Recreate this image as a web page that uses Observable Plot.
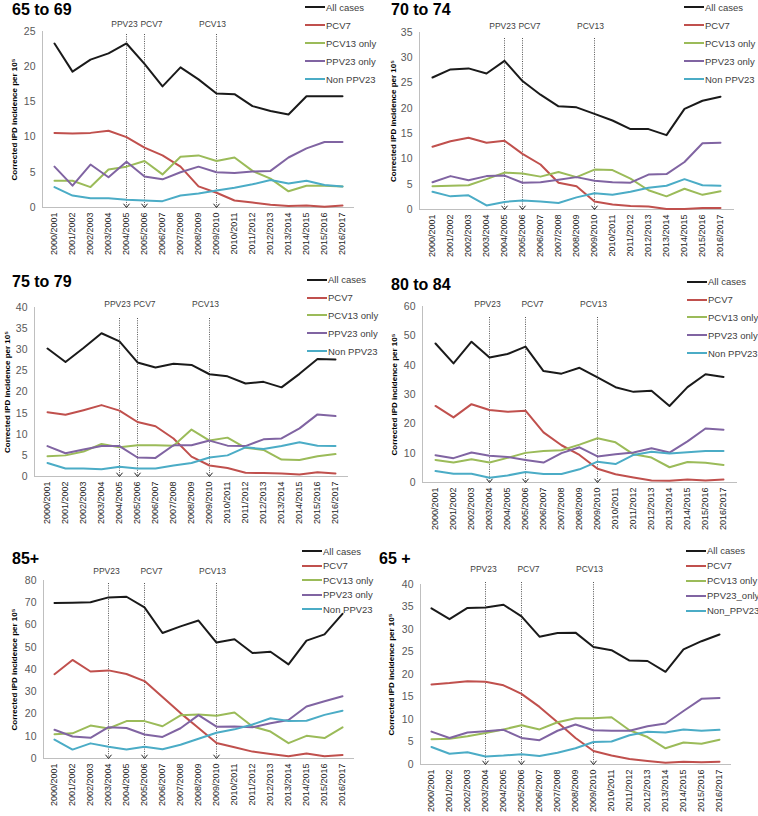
<!DOCTYPE html>
<html>
<head>
<meta charset="utf-8">
<script src="https://cdn.jsdelivr.net/npm/d3@7"></script>
<script src="https://cdn.jsdelivr.net/npm/@observablehq/plot@0.6"></script>
<style>
  body { margin: 0; background: #fff; font-family: "Liberation Sans", Arial, sans-serif; }
  #root { position: relative; width: 758px; height: 816px; overflow: hidden; background: #fff; }
  .panel { position: absolute; width: 379px; }
  .panel svg { position: absolute; left: 0; top: 0; overflow: visible; }
  .title { position: absolute; font-weight: bold; font-size: 16px; color: #000; line-height: 1; white-space: nowrap; }
  .legend { position: absolute; font-size: 9.5px; color: #404040; }
  .legend .row { display: flex; align-items: center; white-space: nowrap; }
  .legend .sw { display: inline-block; width: 20px; height: 2px; margin-right: 1px; }
</style>
</head>
<body>
<div id="root"></div>
<script>
// ---------- data ----------
const years = ["2000/2001","2001/2002","2002/2003","2003/2004","2004/2005","2005/2006","2006/2007","2007/2008","2008/2009","2009/2010","2010/2011","2011/2012","2012/2013","2013/2014","2014/2015","2015/2016","2016/2017"];
const seriesNames = ["All cases","PCV7","PCV13 only","PPV23 only","Non PPV23"];
const seriesNames65plus = ["All cases","PCV7","PCV13 only","PPV23_only","Non_PPV23"];
const vaccineNames = ["PPV23","PCV7","PCV13"];
const vaccineYearsA = ["2004/2005","2005/2006","2009/2010"];
const vaccineYearsB = ["2003/2004","2005/2006","2009/2010"];
const panelTitles = ["65 to 69","70 to 74","75 to 79","80 to 84","85+","65 +"];
const yMax = [25,35,40,60,80,40];
const yStep = [5,5,5,10,10,5];

// 65 to 69
const all_65_69   = [23.3,19.3,21.0,21.9,23.3,20.4,17.2,19.9,18.2,16.2,16.1,14.4,13.7,13.2,15.8,15.8,15.8];
const pcv7_65_69  = [10.6,10.5,10.6,10.9,10.0,8.5,7.4,5.8,3.0,2.1,1.0,0.7,0.4,0.2,0.3,0.1,0.3];
const pcv13_65_69 = [3.8,3.8,2.9,5.4,5.8,6.6,4.7,7.2,7.4,6.6,7.1,5.2,4.1,2.3,3.1,3.1,3.0];
const ppv23_65_69 = [5.8,3.1,6.1,4.3,6.5,4.4,4.0,5.0,5.8,5.0,4.9,5.1,5.2,7.1,8.4,9.3,9.3];
const non_65_69   = [2.9,1.7,1.3,1.3,1.1,1.0,0.9,1.7,2.0,2.4,2.8,3.3,3.9,3.4,3.8,3.2,3.0];
// 70 to 74
const all_70_74   = [26.1,27.7,27.9,26.9,29.4,25.4,22.7,20.4,20.2,18.9,17.6,15.9,15.9,14.7,19.9,21.5,22.3];
const pcv7_70_74  = [12.4,13.5,14.2,13.2,13.6,11.0,8.9,5.3,4.6,1.6,1.0,0.7,0.6,0.1,0.1,0.3,0.3];
const pcv13_70_74 = [4.6,4.7,4.8,6.0,7.3,7.1,6.5,7.4,6.4,7.9,7.8,6.1,3.8,2.6,4.1,2.9,3.6];
const ppv23_70_74 = [5.4,6.6,5.8,6.6,6.7,5.3,5.4,5.9,6.4,5.7,5.4,5.3,6.9,7.0,9.4,13.1,13.2];
const non_70_74   = [3.5,2.6,2.8,0.8,1.5,1.8,1.6,1.3,2.4,3.2,2.9,3.5,4.3,4.7,6.0,4.8,4.7];
// 75 to 79
const all_75_79   = [30.3,27.1,30.4,33.9,32.0,27.0,25.8,26.7,26.4,24.2,23.7,22.0,22.4,21.1,24.3,27.8,27.7];
const pcv7_75_79  = [15.2,14.6,15.7,16.9,15.6,12.9,11.9,9.0,4.7,2.6,2.0,0.9,0.8,0.7,0.5,1.0,0.7];
const pcv13_75_79 = [4.8,5.0,5.9,7.7,6.9,7.4,7.4,7.3,11.1,8.5,9.2,6.8,6.3,4.0,3.9,4.8,5.3];
const ppv23_75_79 = [7.2,5.5,6.4,7.2,7.2,4.5,4.4,7.4,7.4,8.5,7.3,7.2,8.8,9.0,11.4,14.7,14.3];
const non_75_79   = [3.2,1.9,1.9,1.7,2.3,1.9,1.9,2.6,3.2,4.5,5.0,6.9,6.5,7.2,8.1,7.3,7.2];
// 80 to 84
const all_80_84   = [47.4,40.6,48.0,42.6,43.8,46.3,38.0,37.1,39.1,35.8,32.5,30.9,31.3,26.1,32.5,36.9,36.0];
const pcv7_80_84  = [26.1,22.2,26.7,24.7,24.1,24.5,17.1,12.7,9.4,4.7,2.8,1.7,0.7,0.6,1.0,0.7,1.0];
const pcv13_80_84 = [7.7,6.8,7.9,6.8,8.4,10.1,10.7,11.0,12.9,15.1,13.7,9.6,8.5,5.2,7.0,6.7,6.0];
const ppv23_80_84 = [9.3,8.3,10.2,9.1,8.7,7.7,6.8,10.0,12.0,8.9,9.6,10.2,11.7,10.2,14.0,18.4,18.0];
const non_80_84   = [3.9,3.0,3.0,1.6,2.4,3.6,2.9,2.9,4.5,7.1,6.3,9.4,10.5,9.9,10.3,10.7,10.7];
// 85+
const all_85      = [69.9,70.0,70.2,72.4,72.7,67.9,56.4,59.4,62.0,52.1,53.6,47.4,48.0,42.3,53.0,55.8,65.0];
const pcv7_85     = [37.9,44.3,39.1,39.6,38.0,34.8,27.6,20.4,13.7,7.0,5.1,3.1,2.0,1.0,2.2,1.0,1.6];
const pcv13_85    = [10.9,11.3,14.8,13.5,16.8,16.8,14.5,19.4,19.8,19.2,20.7,14.4,12.1,6.9,10.2,9.2,14.0];
const ppv23_85    = [12.9,9.9,9.3,14.1,13.7,10.8,9.7,13.6,19.5,14.3,14.4,14.0,15.8,17.3,23.4,25.7,28.0];
const non_85      = [8.5,4.0,6.8,5.3,4.0,5.3,4.2,6.2,8.9,11.6,13.1,15.3,18.1,16.9,17.0,19.6,21.5];
// 65+
const all_65      = [34.7,32.3,34.8,34.9,35.5,32.9,28.4,29.2,29.3,26.1,25.4,23.1,23.0,20.6,25.6,27.4,28.9];
const pcv7_65     = [17.8,18.1,18.5,18.4,17.6,15.7,12.8,9.4,5.9,3.0,2.0,1.2,0.8,0.4,0.6,0.5,0.6];
const pcv13_65    = [5.6,5.7,6.3,7.0,7.8,8.7,7.8,9.4,10.3,10.3,10.5,7.6,6.1,3.6,4.9,4.6,5.5];
const ppv23_65    = [7.3,5.9,7.1,7.4,7.7,5.9,5.4,7.5,8.9,7.6,7.5,7.5,8.5,9.1,11.9,14.6,14.8];
const non_65      = [3.9,2.4,2.7,1.8,2.0,2.3,1.9,2.6,3.6,5.0,5.1,6.5,7.3,7.1,7.8,7.5,7.7];

const colors = ["#1a1a1a","#c0504d","#9bbb59","#8064a2","#4bacc6"];
const yLabel = "Corrected IPD incidence per 10\u2075";

const panelSeries = [
  [all_65_69, pcv7_65_69, pcv13_65_69, ppv23_65_69, non_65_69],
  [all_70_74, pcv7_70_74, pcv13_70_74, ppv23_70_74, non_70_74],
  [all_75_79, pcv7_75_79, pcv13_75_79, ppv23_75_79, non_75_79],
  [all_80_84, pcv7_80_84, pcv13_80_84, ppv23_80_84, non_80_84],
  [all_85, pcv7_85, pcv13_85, ppv23_85, non_85],
  [all_65, pcv7_65, pcv13_65, ppv23_65, non_65]
];
const panelVaccineYears = [vaccineYearsA, vaccineYearsA, vaccineYearsA, vaccineYearsB, vaccineYearsB, vaccineYearsB];
const panelNames = [seriesNames, seriesNames, seriesNames, seriesNames, seriesNames, seriesNames65plus];

// ---------- layout (styles / positions) ----------
const layout = [
  {left:0,   top:0,   h:265, mt:31, mb:58, ml:42, mr:26, ylx:14, tx:12, ty:2,  lx:305, ly:-2, lg:18,   inset:3,  vdy:-11},
  {left:379, top:0,   h:265, mt:32, mb:56, ml:40, mr:25, ylx:14, tx:12, ty:2,  lx:305, ly:-2, lg:18,   inset:6,  vdy:-10},
  {left:0,   top:265, h:270, mt:42, mb:59, ml:34, mr:32, ylx:7,  tx:12, ty:9,  lx:307, ly:6,  lg:17.8, inset:11, vdy:-7},
  {left:379, top:265, h:270, mt:41, mb:53, ml:43, mr:22, ylx:15, tx:12, ty:12, lx:308, ly:8,  lg:17.8, inset:11, vdy:-6},
  {left:0,   top:535, h:281, mt:45, mb:58, ml:43, mr:26, ylx:14, tx:12, ty:16, lx:302, ly:9,  lg:14.5, inset:3,  vdy:-13},
  {left:379, top:535, h:281, mt:49, mb:52, ml:41, mr:28, ylx:12, tx:0,  ty:16, lx:307, ly:8,  lg:15,   inset:-2, vdy:-19}
];
const vaccineLabelDx = {"PPV23": -2, "PCV7": 7, "PCV13": -4};

// chevron arrow head symbol (tip at the point)
const chevron = {
  draw(context, size) {
    const r = Math.sqrt(size / Math.PI);
    context.moveTo(-r, -r * 1.25);
    context.lineTo(0, 0);
    context.lineTo(r, -r * 1.25);
  }
};

const root = document.getElementById("root");

panelTitles.forEach((title, i) => {
  const L = layout[i];
  const names = panelNames[i];
  const rows = [];
  panelSeries[i].forEach((vals, s) => {
    vals.forEach((v, k) => rows.push({series: names[s], idx: s, year: years[k], value: v}));
  });
  const vacc = vaccineNames.map((n, k) => ({name: n, year: panelVaccineYears[i][k]}));
  const ticks = d3.range(0, yMax[i] + 0.001, yStep[i]);

  const panel = document.createElement("div");
  panel.className = "panel";
  panel.style.left = L.left + "px";
  panel.style.top = L.top + "px";
  panel.style.height = L.h + "px";

  const chart = Plot.plot({
    width: 379,
    height: L.h,
    marginTop: L.mt,
    marginBottom: L.mb,
    marginLeft: L.ml,
    marginRight: L.mr,
    style: {fontFamily: "'Liberation Sans', Arial, sans-serif", background: "transparent", overflow: "visible"},
    x: {type: "point", domain: years, padding: 0.5},
    y: {domain: [0, yMax[i]], ticks},
    marks: [
      Plot.frame({anchor: "left", stroke: "#bfbfbf"}),
      Plot.frame({anchor: "bottom", stroke: "#bfbfbf"}),
      Plot.axisY({ticks, tickSize: 0, tickPadding: 7, fontSize: 10.5, color: "#595959", label: null}),
      Plot.axisX({tickRotate: -90, tickSize: 0, tickPadding: 5, fontSize: 9, color: "#262626", label: null}),
      Plot.text([yLabel], {text: d => d, frameAnchor: "left", textAnchor: "middle", rotate: -90, dx: L.ylx - L.ml, fontSize: 8, fontWeight: "bold", fill: "#000"}),
      Plot.ruleX(vacc, {x: "year", insetTop: L.inset, stroke: "#555", strokeWidth: 1, strokeDasharray: "1,1.3"}),
      Plot.dot(vacc, {x: "year", frameAnchor: "bottom", symbol: chevron, r: 3, stroke: "#222", strokeWidth: 1, fill: "none"}),
      ...vaccineNames.map(n => Plot.text(vacc.filter(d => d.name === n), {x: "year", text: "name", frameAnchor: "top", dy: L.vdy, dx: vaccineLabelDx[n], fontSize: 8.5, fill: "#404040"})),
      Plot.line(rows, {x: "year", y: "value", z: "series", stroke: d => colors[d.idx], strokeWidth: 2, strokeLinejoin: "round"})
    ]
  });
  panel.appendChild(chart);

  const t = document.createElement("div");
  t.className = "title";
  t.style.left = L.tx + "px";
  t.style.top = L.ty + "px";
  t.textContent = title;
  panel.appendChild(t);

  const lg = document.createElement("div");
  lg.className = "legend";
  lg.style.left = L.lx + "px";
  lg.style.top = L.ly + "px";
  names.forEach((n, s) => {
    const r = document.createElement("div");
    r.className = "row";
    r.style.height = L.lg + "px";
    const sw = document.createElement("span");
    sw.className = "sw";
    sw.style.background = colors[s];
    r.appendChild(sw);
    r.appendChild(document.createTextNode(n));
    lg.appendChild(r);
  });
  panel.appendChild(lg);

  root.appendChild(panel);
});
</script>
</body>
</html>
